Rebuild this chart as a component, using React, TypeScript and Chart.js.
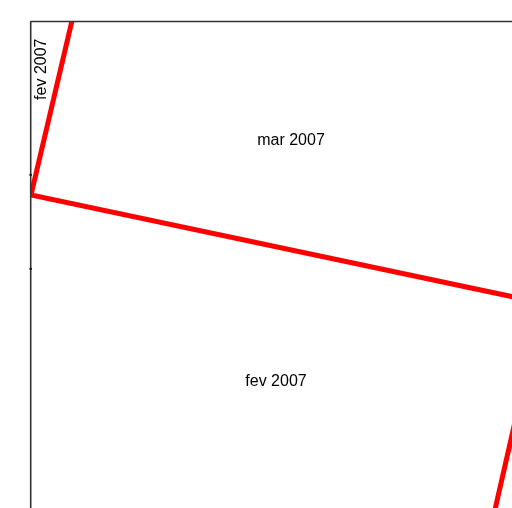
import React, { useEffect, useRef } from "react";
import { Chart, registerables } from "chart.js";

Chart.register(...registerables);

// Outline of the rotated tile (data units, x 0..100, y 0..100)
const outlineX = [9.46, 0, 106.24, 95.5];
const outlineY = [104, 64.27, 42.09, -4.52];

// Left axis tick positions
const yTicks = [68.4, 49.1];

// Labels
const labelTexts = ["mar 2007", "fev 2007", "fev 2007"];
const labelX = [54.05, 50.94, 2.3];
const labelY = [75.4, 25.9, 90.1];
const labelRotation = [0, 0, -90];

const FONT = '16px "Liberation Sans", Arial, sans-serif';

export default function App() {
  const canvasRef = useRef<HTMLCanvasElement | null>(null);

  useEffect(() => {
    const canvas = canvasRef.current;
    if (!canvas) return;

    const points = outlineX.map((x, i) => ({ x, y: outlineY[i] }));

    const decor = {
      id: "decor",
      afterDatasetsDraw(chart: any) {
        const { ctx, chartArea, scales } = chart;
        ctx.save();
        // axes (left + top)
        ctx.strokeStyle = "#333";
        ctx.lineWidth = 1.6;
        ctx.beginPath();
        ctx.moveTo(chartArea.left - 0.3, chartArea.top);
        ctx.lineTo(chartArea.left - 0.3, chartArea.bottom);
        ctx.moveTo(chartArea.left, chartArea.top + 0.5);
        ctx.lineTo(chartArea.right, chartArea.top + 0.5);
        ctx.stroke();
        // ticks
        ctx.lineWidth = 2;
        ctx.strokeStyle = "#111";
        yTicks.forEach((v) => {
          const py = scales.y.getPixelForValue(v);
          ctx.beginPath();
          ctx.moveTo(chartArea.left - 1.5, py);
          ctx.lineTo(chartArea.left + 0.8, py);
          ctx.stroke();
        });
        // labels
        ctx.fillStyle = "#000";
        ctx.font = FONT;
        ctx.textAlign = "center";
        ctx.textBaseline = "middle";
        labelTexts.forEach((t, i) => {
          const px = scales.x.getPixelForValue(labelX[i]);
          const py = scales.y.getPixelForValue(labelY[i]);
          ctx.save();
          ctx.translate(px, py);
          ctx.rotate((labelRotation[i] * Math.PI) / 180);
          ctx.fillText(t, 0, 0);
          ctx.restore();
        });
        ctx.restore();
      },
    };

    const chart = new Chart(canvas, {
      type: "scatter",
      data: {
        datasets: [
          {
            data: points,
            showLine: true,
            borderColor: "#ff0000",
            backgroundColor: "#ff0000",
            borderWidth: 5,
            pointRadius: 0,
            tension: 0,
            borderJoinStyle: "miter",
            clip: { left: 0, top: 0, right: 10, bottom: 10 },
          } as any,
        ],
      },
      options: {
        animation: false,
        responsive: false,
        devicePixelRatio: 1,
        layout: { padding: { left: 31, top: 21, right: 0, bottom: 0 } },
        scales: {
          x: { type: "linear", min: 0, max: 100, display: false },
          y: { type: "linear", min: 0, max: 100, display: false },
        },
        plugins: {
          legend: { display: false },
          tooltip: { enabled: false },
        },
      },
      plugins: [decor],
    });

    return () => chart.destroy();
  }, []);

  return (
    <div style={{ position: "fixed", left: 0, top: 0, width: 512, height: 508, background: "#fff" }}>
      <canvas ref={canvasRef} width={512} height={508} style={{ display: "block" }} />
    </div>
  );
}
